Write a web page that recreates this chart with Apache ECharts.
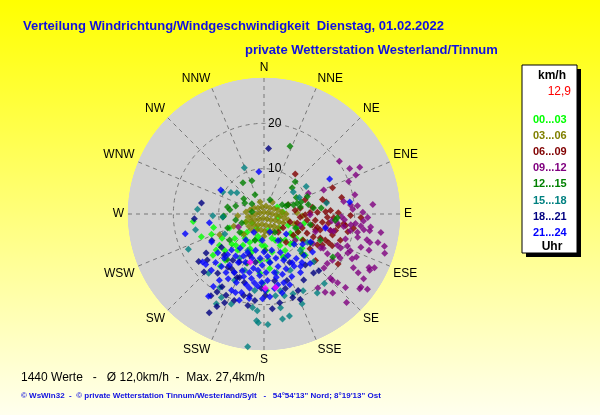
<!DOCTYPE html>
<html lang="de">
<head>
  <meta charset="UTF-8">
  <title>Verteilung Windrichtung/Windgeschwindigkeit</title>
  <script src="https://cdn.jsdelivr.net/npm/echarts/dist/echarts.min.js"></script>
  <style>
    body { margin: 0; }
    #main {
      width: 600px;
      height: 415px;
      /* grauer Kreis hinter dem Polardiagramm + gelber Verlauf */
      background:
        radial-gradient(circle at 264px 214px, #d2d2d2 136px, rgba(210,210,210,0) 136.6px),
        linear-gradient(#ffff00, #ffffee);
    }
  </style>
</head>
<body>
<div id="main"></div>
<script>
  // Himmelsrichtungen (alle 22,5 Grad) und Ringbeschriftung
  var dirLabels = ['N', 'NNE', 'NE', 'ENE', 'E', 'ESE', 'SE', 'SSE', 'S', 'SSW', 'SW', 'WSW', 'W', 'WNW', 'NW', 'NNW'];
  var ringLabels = ['', '10', '20', ''];

  // Zeitfenster (Uhr) und Farben
  var hourLabels = ['00...03', '03...06', '06...09', '09...12', '12...15', '15...18', '18...21', '21...24'];
  var hourColors = ['#00ff00', '#808000', '#800000', '#800080', '#008000', '#008080', '#000080', '#0000ff'];

  // Messwerte [km/h, Richtung in Grad]
  var h00_03 = [[15.7,264],[11.5,255],[3.3,62],[4.2,84],[3.3,233],[14.7,250],[12.4,249],[12.0,235],[14.5,231],[15.0,220],[13.2,233],[8.9,198],[8.3,214],[5.8,189],[10.3,175],[11.8,227],[13.3,220],[9.3,222],[6.5,229],[7.0,207],[8.5,118],[9.1,135],[11.3,132],[12.9,135],[3.7,166],[10.3,185],[13.1,184],[10.4,156],[7.2,126],[16.9,178],[3.2,102],[3.5,207],[5.5,223],[6.9,184],[6.3,157],[7.8,127],[10.2,124],[9.3,150],[8.6,168],[6.1,199],[9.9,216],[7.9,112],[9.1,103],[4.4,246],[8.4,230],[7.8,153],[12.1,174],[5.9,115],[8.2,248],[6.8,218],[5.1,195],[5.6,162],[7.4,141],[8.9,127],[7.1,178],[8.2,202],[9.7,227],[10.7,240],[4.7,131],[8.8,139]];
  var h03_06 = [[4.0,276],[3.2,286],[2.6,301],[1.9,315],[1.6,344],[1.8,14],[1.9,45],[2.5,63],[3.2,74],[4.0,84],[4.9,90],[3.6,259],[2.7,261],[1.8,270],[0.9,284],[0.4,0],[0.9,76],[1.8,90],[2.7,95],[3.6,97],[4.5,101],[5.5,104],[4.4,246],[3.3,242],[2.4,236],[1.6,225],[0.9,194],[1.3,149],[2.0,131],[2.8,119],[3.8,118],[4.7,115],[4.3,231],[3.3,222],[2.8,209],[2.3,191],[2.5,170],[3.0,153],[3.5,140],[4.4,135],[4.4,217],[3.9,204],[3.6,191],[3.8,177],[4.2,165],[4.3,152],[6.3,225],[7.3,88],[8.5,93],[10.8,245],[7.0,108],[7.2,248],[5.8,266],[4.9,180],[2.8,342],[3.2,34]];
  var h06_09 = [[11.2,38],[16.2,69],[17.5,78],[13.3,76],[14.0,79],[10.8,82],[14.7,87],[16.4,89],[11.8,88],[14.0,93],[15.4,93],[19.1,91],[13.0,98],[14.4,98],[16.6,99],[18.2,98],[10.9,103],[11.4,97],[15.1,104],[18.9,102],[20.0,99],[21.4,92],[8.0,95],[6.0,107],[17.7,97],[14.7,113],[13.6,120],[15.3,132],[12.7,127],[10.4,114],[9.0,110],[12.1,104],[9.6,98],[7.6,105],[5.2,126],[16.6,115],[13.5,113],[15.6,114],[15.8,107],[12.0,115],[19.7,124],[6.9,83],[5.7,69],[9.6,71],[8.1,81],[5.1,142],[8.0,126],[10.2,88],[12.9,106],[10.4,124],[7.9,142],[9.1,91],[11.9,107],[13.6,88],[16.2,103],[17.8,109],[8.5,118],[14.6,118]];
  var h09_12 = [[20.3,55],[21.4,62],[23.5,64],[22.0,67],[20.0,69],[14.2,68],[20.5,78],[17.8,81],[19.2,84],[20.7,85],[24.1,85],[19.6,87],[21.8,89],[22.9,92],[22.0,94],[17.8,94],[19.3,97],[20.3,96],[21.5,97],[22.3,99],[23.6,99],[26.1,99],[21.0,101],[17.1,92],[15.0,96],[13.9,102],[10.8,65],[15.8,104],[27.5,105],[28.0,108],[27.1,116],[26.4,118],[26.2,123],[26.8,128],[28.2,126],[26.7,137],[24.2,132],[22.2,133],[20.4,134],[17.8,132],[18.2,124],[19.4,120],[20.7,113],[22.5,115],[19.7,111],[17.6,113],[16.5,122],[20.2,144],[15.1,120],[21.3,104],[23.7,97],[19.4,101],[17.8,99],[16.3,97],[15.1,104],[24.2,105],[22.6,109],[23.0,121],[23.4,104],[25.9,104],[24.5,109],[18.8,107],[18.5,114],[20.4,115],[18.6,119],[17.7,128],[21.8,117],[24.5,122],[26.0,117],[26.8,127],[21.0,134],[23.1,139],[21.9,142],[14.6,121],[12.6,121],[6.3,243],[8.4,107],[10.2,91],[9.0,130],[12.0,109]];
  var h12_15 = [[16.0,21],[7.8,340],[8.3,326],[5.6,307],[3.5,310],[6.5,286],[7.6,277],[8.9,267],[2.7,280],[5.3,248],[8.6,249],[9.9,44],[8.5,47],[8.0,63],[10.3,68],[8.6,72],[5.2,70],[6.8,73],[10.0,78],[11.0,83],[12.7,84],[16.2,93],[4.5,63],[8.2,79],[15.8,95],[17.9,122],[8.2,281],[9.1,266],[6.4,258],[11.5,199],[12.9,219],[4.9,300],[5.7,69],[7.7,72],[12.1,122],[12.1,136],[6.8,148],[8.0,178],[13.7,115],[4.7,335],[3.4,23],[6.1,199],[6.7,233],[4.7,149],[7.6,114],[9.5,233],[10.5,103]];
  var h15_18 = [[11.1,337],[7.6,308],[8.7,303],[14.7,274],[11.3,268],[15.5,257],[9.1,266],[11.1,57],[10.3,298],[18.4,245],[17.9,223],[18.9,211],[22.4,208],[21.1,200],[21.4,184],[21.0,170],[18.2,172],[24.0,183],[20.8,187],[15.3,181],[9.7,243],[29.5,187],[23.6,184],[24.4,178],[23.5,170],[23.2,166],[21.5,157],[20.7,207],[17.3,168],[19.0,153],[20.3,139],[21.0,146],[18.7,160],[18.6,166],[11.4,123],[15.2,134],[8.6,65],[14.0,80],[8.1,53],[13.1,199],[10.8,173],[13.7,155],[16.0,204],[17.0,187],[13.2,168],[8.8,204],[10.8,155],[11.1,209],[11.3,135]];
  var h18_21 = [[14.5,4],[14.0,280],[15.4,266],[15.4,236],[16.1,231],[11.9,232],[12.6,224],[12.3,214],[14.2,214],[14.4,207],[15.0,201],[15.7,196],[24.9,209],[21.4,204],[19.8,205],[20.5,190],[19.2,186],[21.0,175],[19.9,170],[18.0,179],[18.3,190],[16.6,218],[20.2,199],[17.0,140],[20.5,157],[19.5,161],[18.5,156],[17.0,149],[15.5,161],[17.4,136],[21.5,213],[17.8,234],[18.4,226],[20.1,211],[15.2,203],[10.8,190],[14.9,171],[12.1,152],[14.5,141],[12.9,243],[9.6,199],[11.9,207],[22.9,207],[14.0,211],[16.4,182],[17.1,164],[18.5,194],[18.5,210]];
  var h21_24 = [[9.4,353],[10.9,299],[16.4,62],[19.1,82],[17.9,256],[12.2,261],[17.2,232],[13.1,242],[21.9,214],[13.1,222],[10.7,222],[9.2,215],[9.2,203],[8.2,193],[8.4,180],[8.2,168],[9.2,157],[10.6,150],[12.1,144],[12.7,136],[13.6,128],[14.9,219],[13.6,214],[12.1,208],[11.4,201],[12.2,191],[11.3,182],[10.8,173],[12.0,165],[13.0,158],[13.3,150],[13.6,142],[14.9,137],[16.3,209],[16.3,202],[14.5,198],[14.5,191],[13.6,184],[14.7,177],[14.2,169],[15.8,164],[15.1,156],[15.2,148],[18.3,203],[18.0,196],[16.7,191],[16.0,185],[16.9,179],[16.6,172],[17.8,167],[19.8,196],[18.7,181],[13.3,230],[17.0,223],[7.0,215],[5.8,184],[6.6,152],[9.4,135],[4.6,209],[4.2,162],[6.6,132],[10.8,128],[12.0,121],[13.9,103],[12.0,222],[11.2,214],[10.3,206],[10.1,195],[9.8,185],[9.4,175],[10.1,165],[11.1,157],[12.4,150],[14.1,145],[15.4,213],[14.5,207],[13.4,201],[13.3,194],[12.5,186],[12.9,178],[13.1,170],[13.9,163],[16.6,160],[16.1,194],[15.3,188],[15.1,182],[15.9,169],[18.4,200],[18.3,176],[18.9,190],[15.1,225],[17.6,214],[17.0,229],[19.5,215]];
  // letzte Werte (magenta)
  var lastValues = [[11.1,196],[16.4,179],[16.4,171]];

  var hourData = [h00_03, h03_06, h06_09, h09_12, h12_15, h15_18, h18_21, h21_24];

  var series = hourData.map(function (d, i) {
    return {
      name: hourLabels[i],
      type: 'scatter',
      coordinateSystem: 'polar',
      symbol: 'diamond',
      symbolSize: 7,
      itemStyle: { color: hourColors[i] },
      silent: true,
      data: d
    };
  });
  series.push({
    name: 'letzte',
    type: 'scatter',
    coordinateSystem: 'polar',
    symbol: 'diamond',
    symbolSize: 7,
    itemStyle: { color: '#ff00ff' },
    silent: true,
    data: lastValues
  });

  // Legendenkasten rechts
  var graphic = [
    { type: 'rect', shape: { x: 526, y: 69, width: 55, height: 188 }, style: { fill: '#000' } },
    { type: 'rect', shape: { x: 522, y: 65, width: 55, height: 188 }, style: { fill: '#fff', stroke: '#000', lineWidth: 1 } },
    { type: 'text', x: 552, y: 76, style: { text: 'km/h', fill: '#000', font: 'bold 12px "Liberation Sans"', textAlign: 'center', textVerticalAlign: 'middle' } },
    { type: 'text', x: 571, y: 92, style: { text: '12,9', fill: '#ff0000', font: '12px "Liberation Sans"', textAlign: 'right', textVerticalAlign: 'middle' } },
    { type: 'text', x: 552, y: 247, style: { text: 'Uhr', fill: '#000', font: 'bold 12px "Liberation Sans"', textAlign: 'center', textVerticalAlign: 'middle' } }
  ];
  hourLabels.forEach(function (lbl, i) {
    graphic.push({
      type: 'text', x: 533, y: 120 + i * 16.1,
      style: { text: lbl, fill: hourColors[i], font: 'bold 11px "Liberation Sans"', textVerticalAlign: 'middle' }
    });
  });

  var option = {
    animation: false,
    title: [
      {
        text: 'Verteilung Windrichtung/Windgeschwindigkeit  Dienstag, 01.02.2022',
        left: 18, top: 15,
        textStyle: { color: '#1010e0', fontSize: 13, fontWeight: 'bold', fontFamily: 'Liberation Sans' }
      },
      {
        text: 'private Wetterstation Westerland/Tinnum',
        left: 240, top: 39,
        textStyle: { color: '#1010e0', fontSize: 13, fontWeight: 'bold', fontFamily: 'Liberation Sans' }
      },
      {
        text: '1440 Werte   -   Ø 12,0km/h  -  Max. 27,4km/h',
        left: 16, top: 367,
        textStyle: { color: '#000', fontSize: 12, fontWeight: 'normal', fontFamily: 'Liberation Sans' }
      },
      {
        text: '© WsWin32  -  © private Wetterstation Tinnum/Westerland/Sylt   -   54°54\'13" Nord; 8°19\'13" Ost',
        left: 16, top: 387,
        textStyle: { color: '#1010e0', fontSize: 8, fontWeight: 'bold', fontFamily: 'Liberation Sans' }
      }
    ],
    polar: { center: [264, 214], radius: 136 },
    angleAxis: {
      type: 'value',
      min: 0,
      max: 360,
      interval: 22.5,
      startAngle: 90,
      clockwise: true,
      axisLine: { show: false },
      axisTick: { show: false },
      axisLabel: {
        margin: 4,
        color: '#000',
        fontSize: 12,
        fontFamily: 'Liberation Sans',
        formatter: function (v) { return dirLabels[Math.round(v / 22.5)] || ''; }
      },
      splitLine: { show: true, lineStyle: { color: '#777', type: [4, 4], width: 1 } }
    },
    radiusAxis: {
      min: 0,
      max: 30,
      interval: 10,
      axisLine: { show: false },
      axisTick: { show: false },
      axisLabel: {
        margin: -4,
        align: 'left',
        color: '#000',
        fontSize: 12,
        fontFamily: 'Liberation Sans',
        formatter: function (v) { return ringLabels[Math.round(v / 10)] || ''; }
      },
      splitLine: { show: true, lineStyle: { color: ['#777', '#777', '#777', 'rgba(0,0,0,0)'], type: [4, 4], width: 1 } }
    },
    graphic: graphic,
    series: series
  };

  var chart = echarts.init(document.getElementById('main'));
  chart.setOption(option);
</script>
</body>
</html>
